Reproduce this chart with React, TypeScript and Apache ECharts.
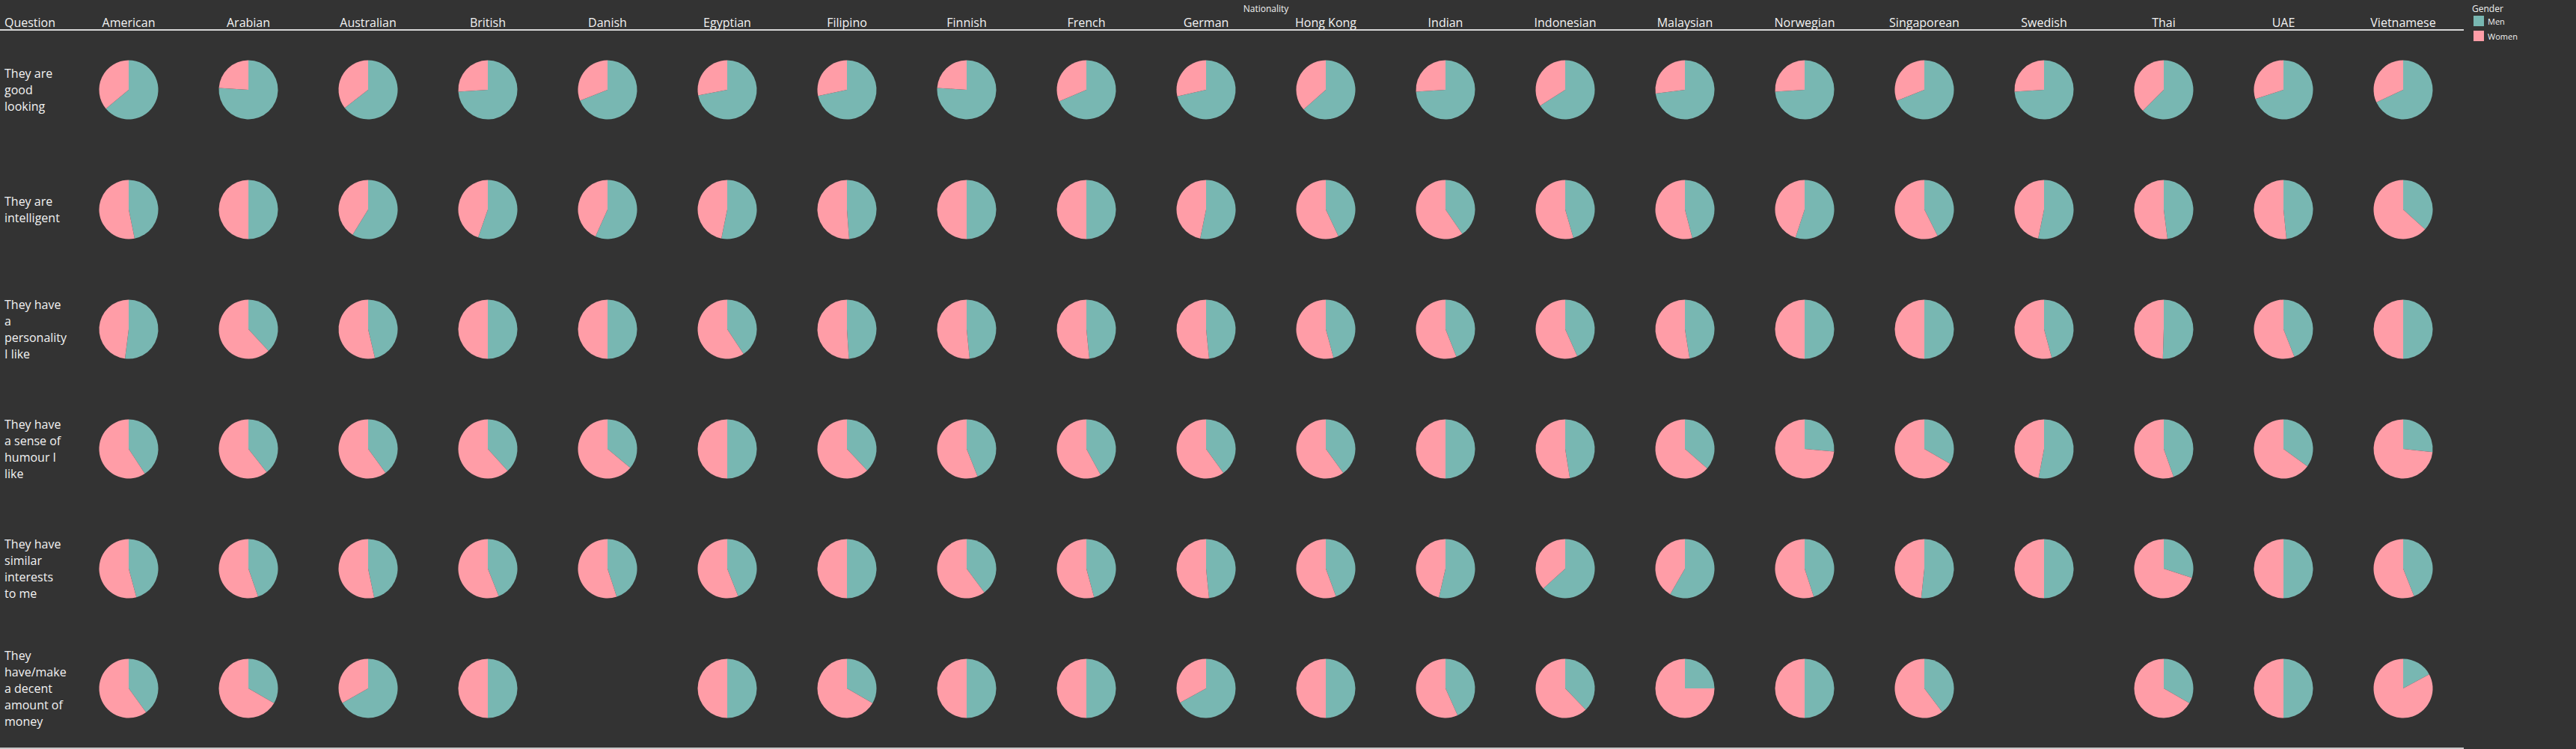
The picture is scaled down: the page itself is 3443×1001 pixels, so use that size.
import React, { useEffect, useRef } from "react";
import * as echarts from "echarts";

const nationalities = [
  "American", "Arabian", "Australian", "British", "Danish", "Egyptian", "Filipino",
  "Finnish", "French", "German", "Hong Kong", "Indian", "Indonesian", "Malaysian",
  "Norwegian", "Singaporean", "Swedish", "Thai", "UAE", "Vietnamese",
];

const questions = [
  "They are good looking",
  "They are intelligent",
  "They have a personality I like",
  "They have a sense of humour I like",
  "They have similar interests to me",
  "They have/make a decent amount of money",
];

const questionLabels = [
  "They are\ngood\nlooking",
  "They are\nintelligent",
  "They have\na\npersonality\nI like",
  "They have\na sense of\nhumour I\nlike",
  "They have\nsimilar\ninterests\nto me",
  "They\nhave/make\na decent\namount of\nmoney",
];

// Share of "Men" (%) per nationality; Women = 100 - Men. null = no data.
const menGoodLooking = [64, 76, 64.5, 74, 69, 72, 71.7, 76, 68.6, 71.4, 63.5, 74, 66, 73, 74, 69, 74, 62.5, 70, 68];
const menIntelligent = [46.8, 50, 58.8, 55.3, 56.7, 53.2, 48.8, 50, 50, 53.2, 43, 40.4, 45.5, 46, 55, 42.6, 53.2, 48, 48.4, 36.7];
const menPersonality = [52, 38.1, 46.3, 50, 50, 40.7, 49, 48.4, 48.4, 48.4, 45.8, 44, 43.3, 47.5, 50, 50, 45.8, 50.5, 44, 50];
const menHumour = [40.8, 39.4, 40, 38.3, 36, 50, 38, 44, 42, 40, 40, 50, 47.5, 36.4, 26.4, 33.3, 53, 44.6, 35, 26.7];
const menInterests = [45.8, 44.7, 46.7, 44, 45, 44, 50, 39.8, 45.8, 48.4, 44.4, 53.6, 63.3, 58.3, 45, 51.7, 50, 30, 50, 44];
const menMoney = [40, 33.3, 66.8, 50, null, 50, 33.3, 50, 50, 67, 50, 43.3, 37.8, 25, 50, 39.7, null, 33.3, 50, 17.1];

const menByQuestion = [menGoodLooking, menIntelligent, menPersonality, menHumour, menInterests, menMoney];

const genders = ["Men", "Women"];
const MEN_COLOR = "#78b7b2";
const WOMEN_COLOR = "#ff9da7";
const BG = "#333333";
const TEXT = "#f2f2f2";
const FONT = "'Open Sans', 'DejaVu Sans', sans-serif";

export default function App() {
  const ref = useRef<HTMLDivElement>(null);

  useEffect(() => {
    document.body.style.margin = "0";
    document.body.style.background = BG;
    if (!ref.current) return;
    const chart = echarts.init(ref.current, undefined, { renderer: "svg" });

    const cells: any[] = [];
    menByQuestion.forEach((row, r) => {
      row.forEach((m, c) => {
        if (m !== null && m !== undefined) cells.push([c, r, m, 100 - m]);
      });
    });

    const makeRender = (isMen: boolean) => (params: any, api: any) => {
      const c = api.value(0);
      const r = api.value(1);
      const m = api.value(2);
      const center = api.coord([c, r]);
      const size = api.size([1, 1]);
      const radius = Math.min(size[0], size[1]) * 0.247;
      const split = -Math.PI / 2 + (2 * Math.PI * m) / 100;
      const start = isMen ? -Math.PI / 2 : split;
      const end = isMen ? split : (3 * Math.PI) / 2;
      return {
        type: "sector",
        shape: { cx: center[0], cy: center[1], r: radius, r0: 0, startAngle: start, endAngle: end, clockwise: true },
        style: { fill: isMen ? MEN_COLOR : WOMEN_COLOR },
      };
    };

    const option: any = {
      animation: false,
      backgroundColor: BG,
      textStyle: { fontFamily: FONT },
      grid: { left: 92, top: 40, width: 3200, height: 960, containLabel: false },
      xAxis: {
        type: "category",
        data: nationalities,
        position: "top",
        name: "Nationality",
        nameLocation: "middle",
        nameGap: 22,
        nameTextStyle: { color: TEXT, fontSize: 12, fontFamily: FONT },
        axisLine: { show: false },
        axisTick: { show: false },
        splitLine: { show: false },
        axisLabel: { color: TEXT, fontSize: 16, margin: 2, interval: 0, fontFamily: FONT },
      },
      yAxis: {
        type: "category",
        data: questions,
        inverse: true,
        axisLine: { show: false },
        axisTick: { show: false },
        splitLine: { show: false },
        axisLabel: {
          align: "left",
          margin: 86,
          color: TEXT,
          fontSize: 16,
          lineHeight: 22,
          interval: 0,
          fontFamily: FONT,
          formatter: (_v: string, i: number) => questionLabels[i],
        },
      },
      legend: {
        data: genders,
        orient: "vertical",
        left: 3306,
        top: 21,
        padding: 0,
        itemWidth: 14,
        itemHeight: 14,
        itemGap: 6,
        icon: "rect",
        textStyle: { color: TEXT, fontSize: 11, fontFamily: FONT },
      },
      graphic: [
        { type: "line", shape: { x1: 0, y1: 40, x2: 3293, y2: 40 }, style: { stroke: "#d6d6d6", lineWidth: 2 } },
        { type: "line", shape: { x1: 0, y1: 1000, x2: 3293, y2: 1000 }, style: { stroke: "#c8c8c8", lineWidth: 2 } },
        {
          type: "text",
          x: 6,
          y: 30,
          style: { text: "Question", fill: TEXT, fontSize: 16, fontFamily: FONT, verticalAlign: "middle", align: "left" },
        },
        {
          type: "text",
          x: 3304,
          y: 11,
          style: { text: "Gender", fill: TEXT, fontSize: 12, fontFamily: FONT, verticalAlign: "middle", align: "left" },
        },
      ],
      series: [
        {
          type: "custom",
          name: "Men",
          itemStyle: { color: MEN_COLOR },
          data: cells,
          encode: { x: 0, y: 1 },
          renderItem: makeRender(true),
        },
        {
          type: "custom",
          name: "Women",
          itemStyle: { color: WOMEN_COLOR },
          data: cells,
          encode: { x: 0, y: 1 },
          renderItem: makeRender(false),
        },
      ],
    };

    chart.setOption(option);
    return () => chart.dispose();
  }, []);

  return <div ref={ref} style={{ width: 3443, height: 1001, background: BG }} />;
}
